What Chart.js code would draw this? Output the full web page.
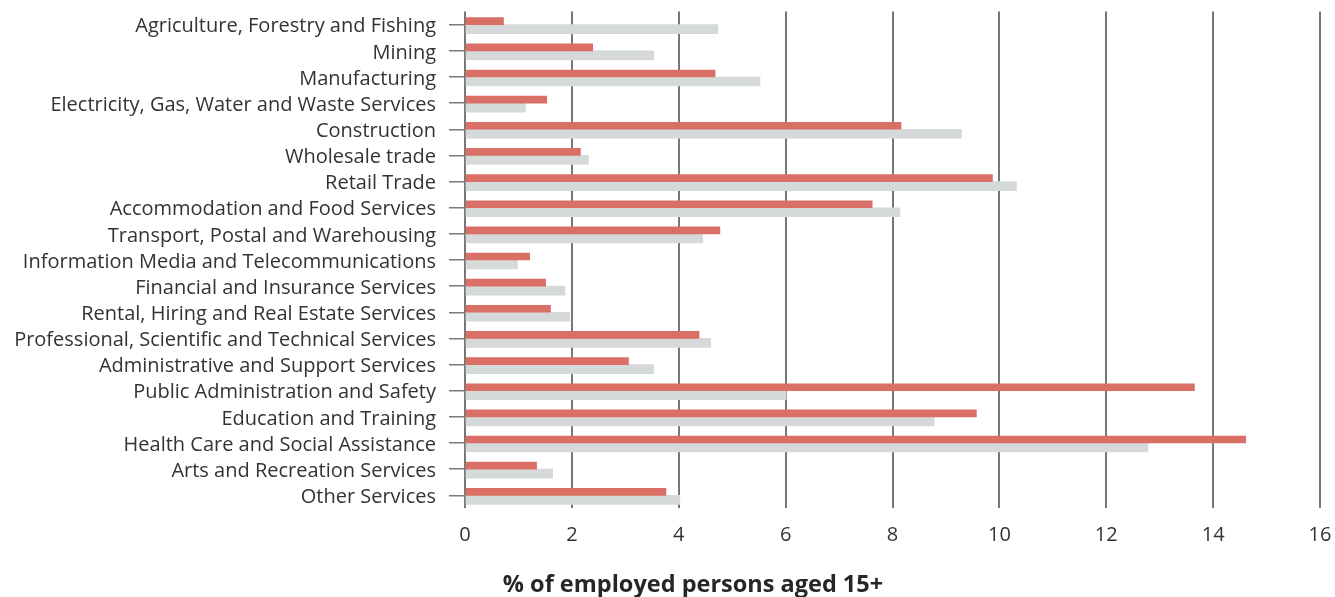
<!DOCTYPE html>
<html lang="en">
<head>
    <meta charset="UTF-8">
    <title>Employment by industry</title>
    <script src="https://cdn.jsdelivr.net/npm/chart.js"></script>
    <style>
        body {
            margin: 0;
            background: #ffffff;
            font-family: "Open Sans", Arial, sans-serif;
        }

        .chart-box {
            position: relative;
            width: 1335px;
            height: 597px;
        }

        /* axis title sits left of the plot centre in the original */
        .axis-title {
            position: absolute;
            left: 393px;
            width: 600px;
            top: 567px;
            text-align: center;
            font-family: "Open Sans", Arial, sans-serif;
            font-weight: bold;
            font-size: 23.5px;
            color: #262626;
        }
    </style>
</head>
<body>
<div class="chart-box">
    <canvas id="industryChart"></canvas>
    <div class="axis-title">% of employed persons aged 15+</div>
</div>

<script>
    // Categories (industries)
    const industries = [
        'Agriculture, Forestry and Fishing',
        'Mining',
        'Manufacturing',
        'Electricity, Gas, Water and Waste Services',
        'Construction',
        'Wholesale trade',
        'Retail Trade',
        'Accommodation and Food Services',
        'Transport, Postal and Warehousing',
        'Information Media and Telecommunications',
        'Financial and Insurance Services',
        'Rental, Hiring and Real Estate Services',
        'Professional, Scientific and Technical Services',
        'Administrative and Support Services',
        'Public Administration and Safety',
        'Education and Training',
        'Health Care and Social Assistance',
        'Arts and Recreation Services',
        'Other Services'
    ];

    // Red series
    const localShare = [0.72, 2.39, 4.68, 1.53, 8.16, 2.16, 9.87, 7.62, 4.77, 1.21,
                        1.51, 1.60, 4.38, 3.06, 13.65, 9.57, 14.61, 1.34, 3.76];

    // Grey series
    const compareShare = [4.73, 3.53, 5.52, 1.13, 9.29, 2.31, 10.32, 8.14, 4.45, 0.98,
                          1.87, 1.96, 4.60, 3.53, 6.01, 8.78, 12.78, 1.64, 4.02];

    // x axis ticks
    const xMin = 0;
    const xMax = 16;
    const xStep = 2;

    const ctx = document.getElementById('industryChart').getContext('2d');
    new Chart(ctx, {
        type: 'bar',
        data: {
            labels: industries,
            datasets: [
                {
                    label: 'Local',
                    data: localShare,
                    backgroundColor: '#da7065',
                    barThickness: 7
                },
                {
                    label: 'Comparison',
                    data: compareShare,
                    backgroundColor: '#d5d9d9',
                    barThickness: 9
                }
            ]
        },
        options: {
            indexAxis: 'y',
            responsive: true,
            maintainAspectRatio: false,
            animation: false,
            layout: {
                padding: { top: 11.6, right: 15, bottom: 0, left: 0 }
            },
            plugins: {
                legend: { display: false },
                tooltip: { enabled: false }
            },
            scales: {
                x: {
                    min: xMin,
                    max: xMax,
                    ticks: {
                        stepSize: xStep,
                        padding: 15,
                        color: '#333333',
                        font: { family: 'Open Sans', size: 20 }
                    },
                    grid: {
                        color: '#777777',
                        lineWidth: 2,
                        drawTicks: false
                    },
                    border: { display: false },
                    afterFit: function (scale) {
                        scale.height = 88.6;
                        scale.paddingLeft = 0;
                        scale.paddingRight = 0;
                    }
                },
                y: {
                    ticks: {
                        autoSkip: false,
                        padding: 13,
                        labelOffset: 2,
                        color: '#333333',
                        font: { family: 'Open Sans', size: 20 }
                    },
                    grid: {
                        offset: false,
                        drawOnChartArea: false,
                        drawTicks: true,
                        tickLength: 16,
                        color: '#7a7a7a',
                        lineWidth: 1.5
                    },
                    border: { display: false },
                    afterFit: function (scale) {
                        scale.width = 465;
                        scale.paddingTop = 0;
                        scale.paddingBottom = 0;
                    }
                }
            }
        }
    });
</script>
</body>
</html>
